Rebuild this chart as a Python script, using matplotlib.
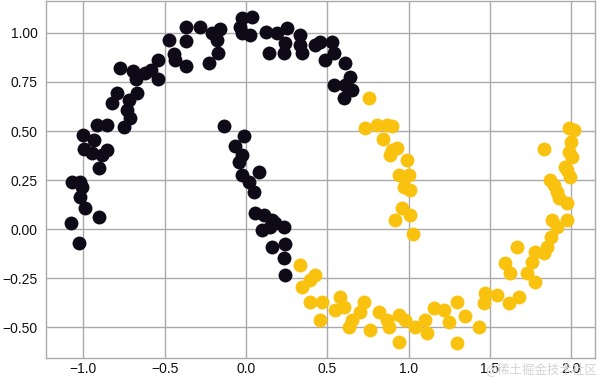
import numpy as np
import matplotlib
matplotlib.use("Agg")
import matplotlib.pyplot as plt

# cluster 0 (dark) - upper moon plus the tip of the lower one
x0 = [-0.775, -0.695, -0.677, -0.621, -0.584, -0.541, -0.541, -0.474, -0.443, -0.437,
      -0.369, -0.369, -0.369, -0.793, -0.670, -0.720, -0.824, -0.732, -0.713,
      -0.283, -0.209, -0.160, -0.178, -0.172, -0.228, -0.025, 0.037, -0.025, 0.025,
      -0.037, 0.123, 0.191, 0.252, 0.141, 0.240, 0.234, 0.332, 0.344, 0.332, 0.424,
      0.455, 0.486, 0.529, 0.541, 0.609, 0.640, 0.541, 0.652, 0.603, 0.609,
      -0.916, -0.855, -0.750, -1.002, -0.935, -0.996, -0.947, -0.886, -0.855, -0.904,
      -1.070, -1.021, -1.009, -1.021, -0.990, -0.904, -1.076, -1.027,
      -0.135, -0.012, -0.068, -0.025, -0.043, 0.080, -0.025, 0.018, 0.049, 0.055,
      0.111, 0.160, 0.178, 0.234, 0.098, 0.148, 0.240, 0.160, 0.234, 0.240]
y0 = [0.819, 0.804, 0.763, 0.794, 0.809, 0.763, 0.860, 0.962, 0.891, 0.860,
      0.830, 1.028, 0.957, 0.692, 0.692, 0.656, 0.641, 0.606, 0.565,
      1.028, 0.997, 1.018, 0.962, 0.896, 0.845, 1.074, 1.079, 0.997, 0.987,
      1.028, 1.003, 0.997, 1.023, 0.896, 0.947, 0.896, 0.987, 0.896, 0.936, 0.936,
      0.952, 0.860, 0.952, 0.896, 0.845, 0.774, 0.733, 0.707, 0.667, 0.733,
      0.529, 0.529, 0.519, 0.478, 0.453, 0.407, 0.387, 0.377, 0.402, 0.310,
      0.239, 0.239, 0.214, 0.163, 0.107, 0.061, 0.031, -0.071,
      0.524, 0.473, 0.422, 0.377, 0.341, 0.290, 0.275, 0.239, 0.188, 0.081,
      0.071, 0.046, 0.031, 0.010, -0.005, 0.010, -0.076, -0.092, -0.148, -0.234]

# cluster 1 (yellow) - lower moon plus the end of the upper one
x1 = [0.732, 0.806, 0.867, 0.898, 0.843, 0.898, 0.929, 0.886, 0.990, 0.941,
      1.002, 0.972, 1.009, 0.959, 1.009, 0.916, 1.027, 0.756,
      0.332, 0.424, 0.394, 0.344, 0.394, 0.467, 0.455,
      0.578, 0.547, 0.603, 0.726, 0.701, 0.652, 0.633, 0.763, 0.818, 0.867,
      0.879, 0.941, 0.978, 0.941, 1.039, 1.101, 1.113, 1.156, 1.218, 1.298,
      1.248, 1.298, 1.347,
      1.433, 1.470, 1.464, 1.544, 1.617, 1.679, 1.593, 1.624, 1.667, 1.728,
      1.777, 1.759, 1.777, 1.833, 1.851, 1.876,
      1.986, 2.017, 1.833, 1.999, 1.986, 2.005, 1.962, 1.974, 1.993, 1.870,
      1.894, 1.913, 1.925, 1.974, 1.882, 1.974, 1.913]
y1 = [0.514, 0.529, 0.529, 0.524, 0.458, 0.402, 0.412, 0.377, 0.351, 0.275,
      0.275, 0.214, 0.198, 0.107, 0.071, 0.046, -0.025, 0.667,
      -0.183, -0.234, -0.260, -0.295, -0.371, -0.371, -0.463,
      -0.346, -0.412, -0.397, -0.371, -0.422, -0.463, -0.499, -0.514, -0.422, -0.463,
      -0.499, -0.438, -0.463, -0.575, -0.499, -0.463, -0.529, -0.402, -0.412, -0.371,
      -0.473, -0.580, -0.443,
      -0.499, -0.326, -0.377, -0.336, -0.377, -0.346, -0.173, -0.224, -0.092, -0.224,
      -0.270, -0.168, -0.117, -0.122, -0.092, -0.041,
      0.514, 0.504, 0.407, 0.443, 0.392, 0.366, 0.316, 0.300, 0.265, 0.249,
      0.224, 0.188, 0.158, 0.132, 0.046, 0.046, 0.010]

xticks = [-1.0, -0.5, 0.0, 0.5, 1.0, 1.5, 2.0]
yticks = [-0.50, -0.25, 0.00, 0.25, 0.50, 0.75, 1.00]

plt.rcParams['font.family'] = ['Liberation Sans', 'DejaVu Sans']

fig = plt.figure(figsize=(6, 3.77), dpi=100)
ax = fig.add_axes([46 / 600, 19 / 377, 549 / 600, 357.5 / 377])

ax.scatter(x0, y0, s=100, c='#0e0a18', linewidths=0, zorder=3)
ax.scatter(x1, y1, s=100, c='#f9c20e', linewidths=0, zorder=3)

ax.set_xlim(-1.23, 2.146)
ax.set_ylim(-0.656, 1.165)
ax.set_xticks(xticks)
ax.set_yticks(yticks)
ax.set_xticklabels([f"{t:.1f}".replace('-', '\u2212') for t in xticks])
ax.set_yticklabels([f"{t:.2f}".replace('-', '\u2212') for t in yticks])
ax.tick_params(length=0, labelsize=10, colors='#111111')
ax.tick_params(axis='x', pad=3)
ax.tick_params(axis='y', pad=6)
ax.grid(True, color='#aaaaaa', linewidth=1.0, zorder=0)
ax.set_axisbelow(True)
for sp in ax.spines.values():
    sp.set_color('#aaaaaa')
    sp.set_linewidth(1.0)

# site watermark
fig.text(0.995, 0.003, '@稀土掘金技术社区', ha='right', va='bottom', fontsize=9,
         color='#d4d4d4', family=['Noto Sans CJK SC', 'DejaVu Sans'])

fig.savefig('out.png', dpi=100)
